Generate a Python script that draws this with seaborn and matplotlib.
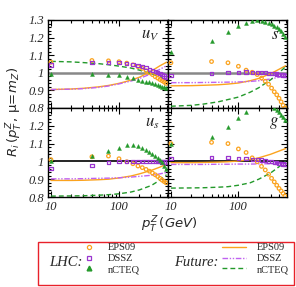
import numpy as np
import pandas as pd
import matplotlib
matplotlib.use("Agg")
import matplotlib.pyplot as plt
from matplotlib.lines import Line2D
from matplotlib.patches import Rectangle
from matplotlib.ticker import FixedLocator, MultipleLocator, LogLocator, NullFormatter
import seaborn as sns

# transverse momentum points (GeV)
pt_lhc = [10, 40, 70, 100, 130, 160, 190, 220, 250, 280, 310, 340, 370, 400, 430, 460, 490]
pt_future = [10, 20, 30, 50, 70, 100, 150, 200, 300, 400, 500]

# u_v panel
uv_eps09_lhc = [1.06, 1.07, 1.068, 1.063, 1.055, 1.045, 1.035, 1.025, 1.012, 1.0, 0.99, 0.978, 0.97, 0.962, 0.955, 0.948, 0.94]
uv_dssz_lhc = [1.045, 1.06, 1.06, 1.058, 1.052, 1.048, 1.042, 1.037, 1.03, 1.02, 1.013, 1.007, 1.0, 0.995, 0.99, 0.982, 0.975]
uv_ncteq_lhc = [0.994, 0.993, 0.99, 0.988, 0.975, 0.968, 0.96, 0.955, 0.95, 0.945, 0.94, 0.935, 0.93, 0.926, 0.922, 0.918, 0.914]
uv_eps09_fut = [0.905, 0.908, 0.912, 0.92, 0.928, 0.94, 0.958, 0.975, 1.01, 1.04, 1.06]
uv_dssz_fut = [0.905, 0.907, 0.91, 0.917, 0.925, 0.937, 0.953, 0.968, 0.995, 1.02, 1.04]
uv_ncteq_fut = [1.065, 1.062, 1.058, 1.052, 1.046, 1.038, 1.027, 1.015, 0.995, 0.975, 0.96]

# s panel
s_eps09_lhc = [1.057, 1.064, 1.057, 1.037, 1.015, 1.003, 0.99, 0.97, 0.952, 0.935, 0.913, 0.892, 0.875, 0.855, 0.835, 0.815, 0.8]
s_dssz_lhc = [0.984, 0.997, 1.0, 1.003, 1.005, 1.003, 1.002, 1.0, 1.0, 0.998, 0.997, 0.995, 0.993, 0.992, 0.99, 0.988, 0.986]
s_ncteq_lhc = [1.118, 1.18, 1.23, 1.266, 1.285, 1.296, 1.3, 1.296, 1.29, 1.285, 1.277, 1.267, 1.258, 1.248, 1.236, 1.22, 1.204]
s_eps09_fut = [0.926, 0.927, 0.929, 0.932, 0.936, 0.942, 0.955, 0.968, 0.995, 1.02, 1.04]
s_dssz_fut = [0.944, 0.944, 0.945, 0.946, 0.947, 0.948, 0.951, 0.955, 0.965, 0.975, 0.984]
s_ncteq_fut = [0.81, 0.815, 0.822, 0.835, 0.848, 0.862, 0.89, 0.915, 0.96, 1.0, 1.035]

# u_s panel
us_eps09_lhc = [1.01, 1.026, 1.03, 1.015, 0.998, 0.987, 0.974, 0.965, 0.955, 0.945, 0.935, 0.925, 0.915, 0.905, 0.895, 0.887, 0.88]
us_dssz_lhc = [0.96, 0.978, 0.993, 0.998, 1.0, 1.0, 1.0, 1.0, 1.0, 1.0, 0.999, 0.999, 0.998, 0.998, 0.997, 0.997, 0.996]
us_ncteq_lhc = [1.0, 1.033, 1.057, 1.075, 1.09, 1.09, 1.085, 1.075, 1.063, 1.052, 1.04, 1.03, 1.02, 1.01, 0.995, 0.975, 0.955]
us_eps09_fut = [0.893, 0.893, 0.894, 0.897, 0.9, 0.907, 0.918, 0.93, 0.95, 0.968, 0.985]
us_dssz_fut = [0.902, 0.902, 0.903, 0.905, 0.906, 0.908, 0.912, 0.916, 0.922, 0.93, 0.938]
us_ncteq_fut = [0.805, 0.806, 0.807, 0.81, 0.813, 0.818, 0.828, 0.84, 0.865, 0.895, 0.925]

# g panel
g_eps09_lhc = [1.10, 1.107, 1.10, 1.07, 1.05, 1.02, 0.998, 0.972, 0.952, 0.928, 0.905, 0.885, 0.866, 0.848, 0.834, 0.82, 0.806]
g_dssz_lhc = [1.015, 1.02, 1.02, 1.017, 1.015, 1.012, 1.01, 1.008, 1.005, 1.0, 0.998, 0.995, 0.993, 0.99, 0.988, 0.986, 0.984]
g_ncteq_lhc = [1.1, 1.137, 1.196, 1.243, 1.28, 1.33, 1.34, 1.345, 1.345, 1.34, 1.33, 1.3, 1.29, 1.28, 1.262, 1.248, 1.233]
g_eps09_fut = [0.993, 0.993, 0.994, 0.996, 0.998, 1.002, 1.01, 1.02, 1.04, 1.058, 1.072]
g_dssz_fut = [0.983, 0.983, 0.983, 0.984, 0.984, 0.985, 0.985, 0.986, 0.987, 0.988, 0.99]
g_ncteq_fut = [0.85, 0.851, 0.852, 0.855, 0.858, 0.866, 0.88, 0.9, 0.935, 0.97, 1.0]

panel_labels = ["$u_V$", "$s$", "$u_s$", "$g$"]
set_names = ["EPS09", "DSSZ", "nCTEQ"]

c_orange = "#FBA31E"
c_purple = "#9A35CF"
c_purple_line = "#C062F0"
c_green = "#23992A"

sns.set_style("ticks")
plt.rcParams["font.family"] = ["Liberation Serif", "DejaVu Serif"]
plt.rcParams["mathtext.fontset"] = "dejavusans"

fig = plt.figure(figsize=(2.96, 2.87), dpi=100)
W, H = 296.0, 287.0
x_l, x_m, x_r = 48 / W, 168 / W, 287 / W
top_box = (1 - 108 / H, 88 / H)
bot_box = (1 - 197 / H, 89 / H)

boxes = [
    (x_l, top_box), (x_m, top_box),
    (x_l, bot_box), (x_m, bot_box),
]

lhc_data = [
    (uv_eps09_lhc, uv_dssz_lhc, uv_ncteq_lhc),
    (s_eps09_lhc, s_dssz_lhc, s_ncteq_lhc),
    (us_eps09_lhc, us_dssz_lhc, us_ncteq_lhc),
    (g_eps09_lhc, g_dssz_lhc, g_ncteq_lhc),
]
fut_data = [
    (uv_eps09_fut, uv_dssz_fut, uv_ncteq_fut),
    (s_eps09_fut, s_dssz_fut, s_ncteq_fut),
    (us_eps09_fut, us_dssz_fut, us_ncteq_fut),
    (g_eps09_fut, g_dssz_fut, g_ncteq_fut),
]

for i, (x0, (y0, h)) in enumerate(boxes):
    ax = fig.add_axes([x0, y0, (x_m - x_l) if x0 == x_l else (x_r - x_m), h])
    is_top = i < 2
    is_left = i % 2 == 0

    ax.axhline(1.0, color="#888888" if is_top else "black", lw=1.8 if is_top else 1.2, zorder=1)

    fe, fd, fn = fut_data[i]
    sns.lineplot(x=pt_future, y=fe, ax=ax, color=c_orange, lw=1.0, zorder=2)
    sns.lineplot(x=pt_future, y=fd, ax=ax, color=c_purple_line, lw=1.0,
                 linestyle=(0, (4, 1.2, 1, 1.2, 1, 1.2)), zorder=2)
    sns.lineplot(x=pt_future, y=fn, ax=ax, color=c_green, lw=1.0,
                 linestyle=(0, (3.5, 2.2)), zorder=2)

    le, ld, ln = lhc_data[i]
    sns.scatterplot(x=pt_lhc, y=le, ax=ax, marker="o", s=6.5, facecolor="none",
                    edgecolor=c_orange, linewidth=0.9, zorder=3)
    sns.scatterplot(x=pt_lhc, y=ld, ax=ax, marker="s", s=5.5, facecolor="none",
                    edgecolor=c_purple, linewidth=0.9, zorder=3)
    sns.scatterplot(x=pt_lhc, y=ln, ax=ax, marker="^", s=8, color=c_green,
                    edgecolor=c_green, linewidth=0.3, zorder=3)

    ax.set_xscale("log")
    ax.set_xlim(9.05, 525)
    ax.set_ylim(0.8, 1.3)
    ax.set_xlabel("")
    ax.set_ylabel("")

    ax.yaxis.set_major_locator(FixedLocator([0.8, 0.9, 1.0, 1.1, 1.2, 1.3]))
    ax.yaxis.set_minor_locator(MultipleLocator(0.02))
    ax.xaxis.set_major_locator(FixedLocator([10, 100]))
    ax.xaxis.set_minor_locator(LogLocator(base=10, subs=np.arange(2, 10)))
    ax.xaxis.set_minor_formatter(NullFormatter())

    if is_left:
        labels = ["0.8", "0.9", "1", "1.1", "1.2", "1.3" if is_top else ""]
        ax.set_yticklabels(labels)
    else:
        ax.set_yticklabels([])
    if is_top:
        ax.set_xticklabels([])
    else:
        ax.set_xticklabels(["10", "100"])

    ax.tick_params(which="both", direction="in", top=True, right=True,
                   labelsize=9, pad=3, width=0.8, color="black")
    ax.tick_params(which="major", length=4)
    ax.tick_params(which="minor", length=2)
    for lab in ax.get_xticklabels() + ax.get_yticklabels():
        lab.set_fontstyle("italic")
    for sp in ax.spines.values():
        sp.set_linewidth(1.0)
        sp.set_color("black")

    ax.text(0.93, 0.83, panel_labels[i], transform=ax.transAxes, ha="right",
            va="center", fontsize=12, math_fontfamily="stix")

fig.text(15 / W, 1 - 112 / H, r"$R_i\,(p_T^Z,\,\mathrm{\mu}\!=\!m_Z)$", rotation=90,
         ha="center", va="center", fontsize=9.5, family="DejaVu Sans")
fig.text(169 / W, 1 - 225 / H, r"$p_T^Z\,(GeV)$", ha="center", va="center",
         fontsize=9.5, family="DejaVu Sans")

# legend frame and headings
fig.patches.append(Rectangle((38 / W, 1 - 285 / H), 256 / W, 43 / H,
                             transform=fig.transFigure, fill=False,
                             edgecolor="#E8212A", lw=1.0))
fig.text(66 / W, 1 - 263 / H, "LHC:", ha="center", va="center", fontsize=10.5, fontstyle="italic")
fig.text(196 / W, 1 - 263 / H, "Future:", ha="center", va="center", fontsize=10.5, fontstyle="italic")

h_lhc = [
    Line2D([], [], ls="none", marker="o", ms=3.0, mfc="none", mec=c_orange, mew=0.9),
    Line2D([], [], ls="none", marker="s", ms=2.8, mfc="none", mec=c_purple, mew=0.9),
    Line2D([], [], ls="none", marker="^", ms=3.4, color=c_green),
]
h_fut = [
    Line2D([], [], color=c_orange, lw=1.0),
    Line2D([], [], color=c_purple_line, lw=1.0, ls=(0, (4, 1.2, 1, 1.2, 1, 1.2))),
    Line2D([], [], color=c_green, lw=1.0, ls=(0, (3.5, 2.2))),
]
fs_leg = 7.5
leg1 = fig.legend(h_lhc, set_names, loc="upper left", bbox_to_anchor=(83.8 / W, 1 - 243 / H),
                  frameon=False, fontsize=fs_leg, handlelength=1.0, handletextpad=1.33,
                  borderpad=0, borderaxespad=0, labelspacing=0.15)
leg2 = fig.legend(h_fut, set_names, loc="upper left", bbox_to_anchor=(222 / W, 1 - 243 / H),
                  frameon=False, fontsize=fs_leg, handlelength=2.3, handletextpad=1.06,
                  borderpad=0, borderaxespad=0, labelspacing=0.15)

fig.savefig("out.png", dpi=100)
